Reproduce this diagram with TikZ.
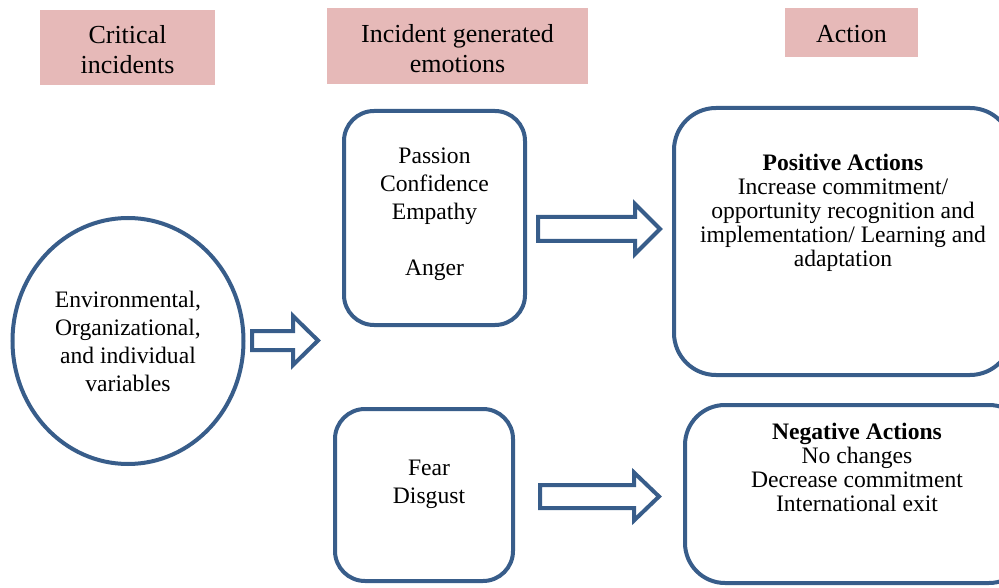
\documentclass[tikz,border=0pt]{standalone}
\usepackage{fontspec}
\setmainfont{Liberation Serif}
\usetikzlibrary{shapes.geometric,positioning}
\definecolor{hdrpink}{HTML}{E6B9B8}
\definecolor{edgeblue}{HTML}{385D8A}

\begin{document}
\begin{tikzpicture}[x=1pt,y=-1pt,
    hdr/.style={fill=hdrpink, inner sep=0pt},
    hdrtxt/.style={align=center, inner sep=0pt, yshift=-2.5pt, font=\fontsize{26}{30}\selectfont},
    box/.style={draw=edgeblue, line width=4pt, fill=white, rounded corners=30pt},
    txt/.style={align=center, inner sep=0pt, font=\fontsize{23.6}{28}\selectfont},
    acttxt/.style={align=center, inner sep=0pt, font=\fontsize{23.6}{24}\selectfont},
    blockarrow/.style={draw=edgeblue, line width=4pt, fill=white, line join=miter}]
        \useasboundingbox (0,0) rectangle (999,588);
        \clip (0,0) rectangle (999,588);
        \node[hdr, minimum width=175pt, minimum height=75pt, label={[hdrtxt]center:Critical\\incidents}] (crit) at (127.5,47.5) {};
        \node[hdr, minimum width=261pt, minimum height=76pt, label={[hdrtxt]center:Incident generated\\emotions}] (emo) at (457.5,46) {};
        \node[hdr, minimum width=133pt, minimum height=49pt, label={[hdrtxt, yshift=0.5pt]center:Action}] (act) at (851.5,32.5) {};
        \node[ellipse, draw=edgeblue, line width=4pt, minimum width=231pt, minimum height=246pt, txt] (vars) at (128,341) {Environmental,\\Organizational,\\and individual\\variables};
        \node[box, minimum width=181pt, minimum height=214pt] (pbox) at (434.5,218) {};
        \node[box, minimum width=178pt, minimum height=172pt] (fbox) at (424,495) {};
        \node[box, rounded corners=42pt, minimum width=338pt, minimum height=267pt] (posbox) at (843,241.5) {};
        \node[box, rounded corners=40pt, minimum width=344pt, minimum height=178pt] (negbox) at (857,494) {};
        \node[txt, below=39pt of pbox.north] (posemo) {Passion\\Confidence\\Empathy\\[28pt]Anger};
        \node[txt, below=53pt of fbox.north, xshift=5pt] (negemo) {Fear\\Disgust};
        \node[acttxt, below=48pt of posbox.north] (posact) {\textbf{Positive Actions}\\Increase commitment/\\opportunity recognition and\\implementation/ Learning and\\adaptation};
        \node[acttxt, below=20pt of negbox.north] (negact) {\textbf{Negative Actions}\\No changes\\Decrease commitment\\International exit};
        \foreach \tx/\ty/\len/\sh/\hh in {318/340.5/66/9.5/24.5, 660/229/122/12/25, 659/496.5/119/11.5/24}
          \draw[blockarrow] (\tx-\len,\ty-\sh) -- (\tx-25,\ty-\sh) -- (\tx-25,\ty-\hh) -- (\tx,\ty)
            -- (\tx-25,\ty+\hh) -- (\tx-25,\ty+\sh) -- (\tx-\len,\ty+\sh) -- cycle;
      \end{tikzpicture}
\end{document}
